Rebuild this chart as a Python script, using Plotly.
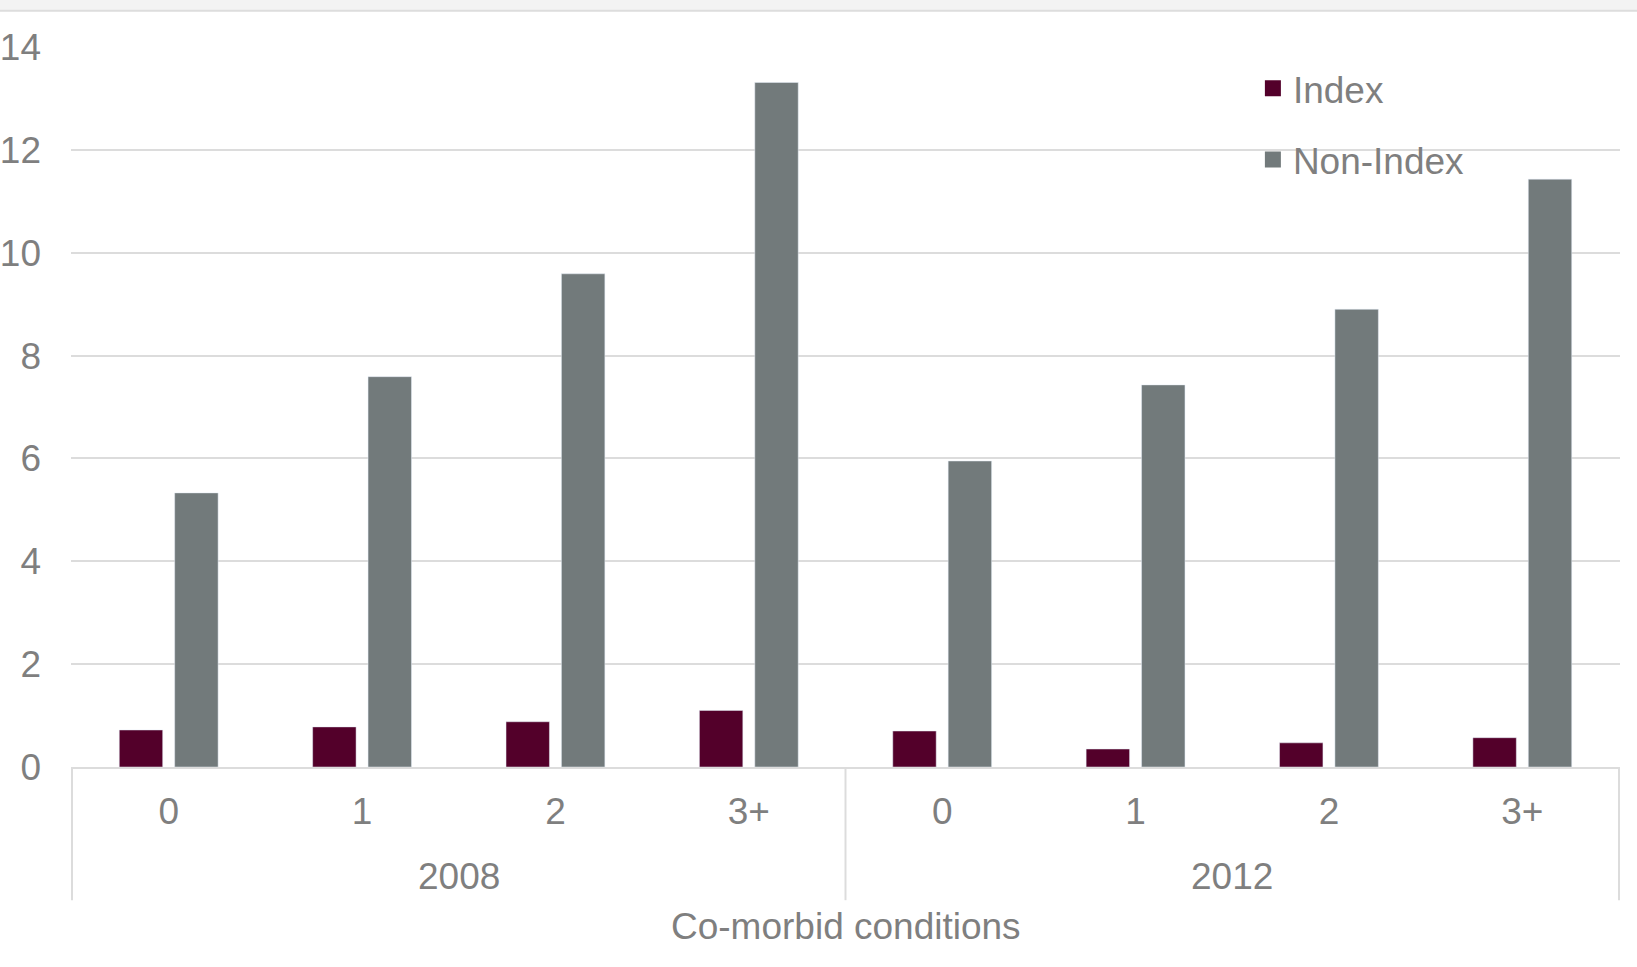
import plotly.graph_objects as go

# Rates by number of co-morbid conditions, two survey years
years = ["2008", "2012"]
comorbid = ["0", "1", "2", "3+"]
index_vals = [0.72, 0.78, 0.88, 1.10, 0.70, 0.35, 0.47, 0.57]
non_index_vals = [5.33, 7.59, 9.59, 13.31, 5.95, 7.43, 8.90, 11.43]

# one category per (year, condition count); the tick shows only the count
x_keys = [f"{y} | {c}" for y in years for c in comorbid]
x_ticktext = comorbid * len(years)

FONT = "Liberation Sans, Arial, sans-serif"
TEXT = "#7f7f7f"
GRID = "#dcdcdc"
INDEX_COLOR = "#53002A"
NON_INDEX_COLOR = "#727A7B"

fig = go.Figure()
fig.add_trace(go.Bar(x=x_keys, y=index_vals, name="Index",
                     marker_color=INDEX_COLOR, showlegend=False))
fig.add_trace(go.Bar(x=x_keys, y=non_index_vals, name="Non-Index",
                     marker_color=NON_INDEX_COLOR, showlegend=False))

# legend keys drawn as larger squares
for name, color, grp in [("Index", INDEX_COLOR, "a"), ("Non-Index", NON_INDEX_COLOR, "b")]:
    fig.add_trace(go.Scatter(x=[None], y=[None], mode="markers", name=name,
                             legendgroup=grp,
                             marker=dict(symbol="square", size=19, color=color)))

# year group labels and separators under the category ticks
n = len(comorbid)
for k, yr in enumerate(years):
    fig.add_annotation(x=k * n + (n - 1) / 2, y=-0.152, xref="x", yref="paper",
                       text=yr, showarrow=False, yanchor="middle",
                       font=dict(family=FONT, size=37, color=TEXT))
for k in range(len(years) + 1):
    fig.add_shape(type="line", xref="x", yref="paper",
                  x0=k * n - 0.5, x1=k * n - 0.5, y0=0, y1=-0.185,
                  line=dict(color=GRID, width=2))

fig.add_annotation(x=0.5, y=-0.221, xref="paper", yref="paper",
                   text="Co-morbid conditions", showarrow=False, yanchor="middle",
                   font=dict(family=FONT, size=37, color=TEXT))

# light header band across the top of the page
fig.add_shape(type="rect", xref="paper", yref="paper",
              x0=-0.06, x1=1.02, y0=1.0503, y1=1.07,
              fillcolor="#f3f3f3", line_width=0, layer="below")
fig.add_shape(type="line", xref="paper", yref="paper",
              x0=-0.06, x1=1.02, y0=1.0503, y1=1.0503,
              line=dict(color="#dddddd", width=2))

fig.update_layout(
    width=1637, height=967,
    margin=dict(l=71, r=17, t=47, b=200),
    paper_bgcolor="white", plot_bgcolor="white",
    font=dict(family=FONT, size=37, color=TEXT),
    barmode="group", bargap=0.427, bargroupgap=0.216,
    showlegend=True,
    legend=dict(x=0.763, y=0.985, xanchor="left", yanchor="top",
                bgcolor="rgba(0,0,0,0)", tracegroupgap=20,
                font=dict(family=FONT, size=37, color=TEXT)),
)
fig.update_yaxes(
    range=[0, 14], dtick=2, showgrid=True, gridcolor=GRID, gridwidth=2,
    zeroline=False, showline=False, ticks="", ticklabelstandoff=29,
    automargin=False,
    tickfont=dict(family=FONT, size=37, color=TEXT),
)
fig.update_xaxes(
    type="category", categoryorder="array", categoryarray=x_keys,
    tickvals=x_keys, ticktext=x_ticktext,
    showline=True, linecolor=GRID, linewidth=2, showgrid=False,
    ticks="", ticklabelstandoff=11, automargin=False,
    tickfont=dict(family=FONT, size=37, color=TEXT),
)

fig.write_html("out.html")
